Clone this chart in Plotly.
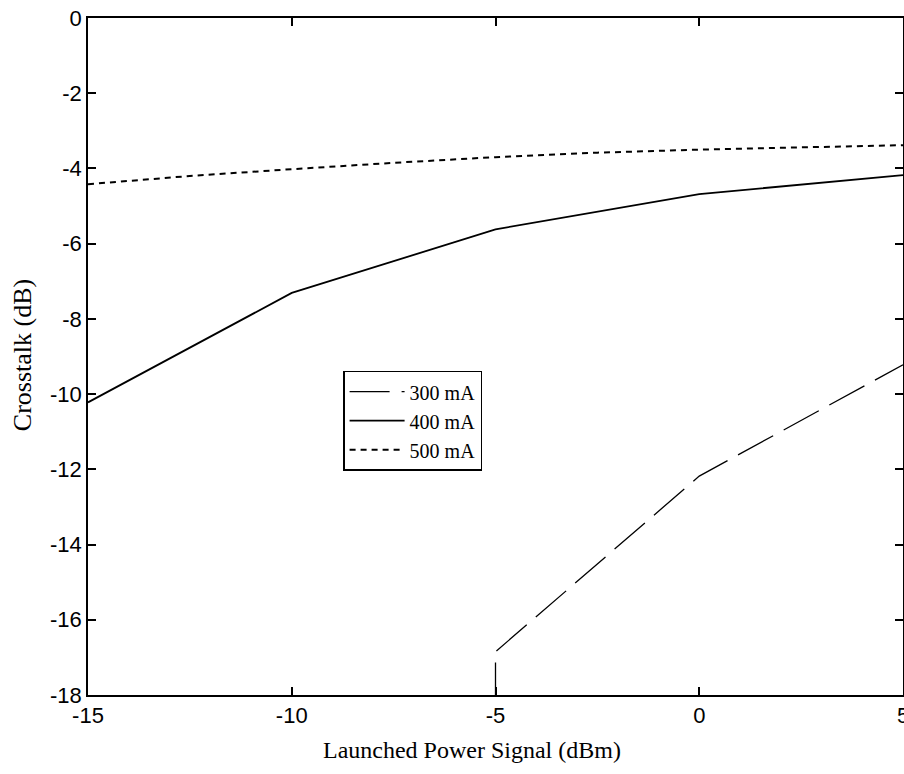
import plotly.graph_objects as go

# Data
x_power = [-15, -12.5, -10, -7.5, -5, -2.5, 0, 2.5, 5]
y_500 = [-4.42, -4.2, -4.02, -3.85, -3.7, -3.58, -3.5, -3.43, -3.38]

x_400 = [-15, -10, -5, 0, 5]
y_400 = [-10.22, -7.31, -5.62, -4.68, -4.18]

x_300 = [-5, -5, 0, 5]
y_300 = [-18.2, -16.85, -12.18, -9.22]

x_ticks = [-15, -10, -5, 0, 5]
y_ticks = [0, -2, -4, -6, -8, -10, -12, -14, -16, -18]

fig = go.Figure()
fig.add_trace(go.Scatter(x=x_300, y=y_300, mode="lines", name="300 mA",
                         line=dict(color="black", width=1.3, dash="40px,12px")))
fig.add_trace(go.Scatter(x=x_400, y=y_400, mode="lines", name="400 mA",
                         line=dict(color="black", width=1.8)))
fig.add_trace(go.Scatter(x=x_power, y=y_500, mode="lines", name="500 mA",
                         line=dict(color="black", width=2, dash="6px,5px")))

axis_common = dict(showgrid=False, zeroline=False, showline=True, linecolor="black",
                   linewidth=1.5, mirror="ticks", ticks="inside", ticklen=8,
                   tickcolor="black", tickwidth=1.5, automargin=False,
                   tickfont=dict(family="Liberation Sans", size=22, color="black"))

fig.update_xaxes(range=[-15, 5], tickvals=x_ticks, ticktext=[str(v) for v in x_ticks],
                 ticklabeloverflow="allow", **axis_common)
fig.update_yaxes(range=[-18, 0], tickvals=y_ticks, ticktext=[str(v) for v in y_ticks], **axis_common)

fig.update_layout(
    width=904, height=774,
    margin=dict(l=88, r=1, t=18, b=79, autoexpand=False),
    paper_bgcolor="white", plot_bgcolor="white",
    showlegend=True,
    legend=dict(x=0.313, y=0.479, xanchor="left", yanchor="top",
                bgcolor="white", bordercolor="black", borderwidth=1.5,
                font=dict(family="Liberation Serif", size=20, color="black"),
                itemwidth=55),
    annotations=[
        dict(text="Launched Power Signal (dBm)", xref="paper", yref="paper",
             x=0.471, y=-0.081, xanchor="center", yanchor="middle", showarrow=False,
             font=dict(family="Liberation Serif", size=24, color="black")),
        dict(text="Crosstalk (dB)", xref="paper", yref="paper",
             x=-0.081, y=0.502, xanchor="center", yanchor="middle", showarrow=False,
             textangle=-90,
             font=dict(family="Liberation Serif", size=26, color="black")),
    ],
)

fig.write_html("out.html")
